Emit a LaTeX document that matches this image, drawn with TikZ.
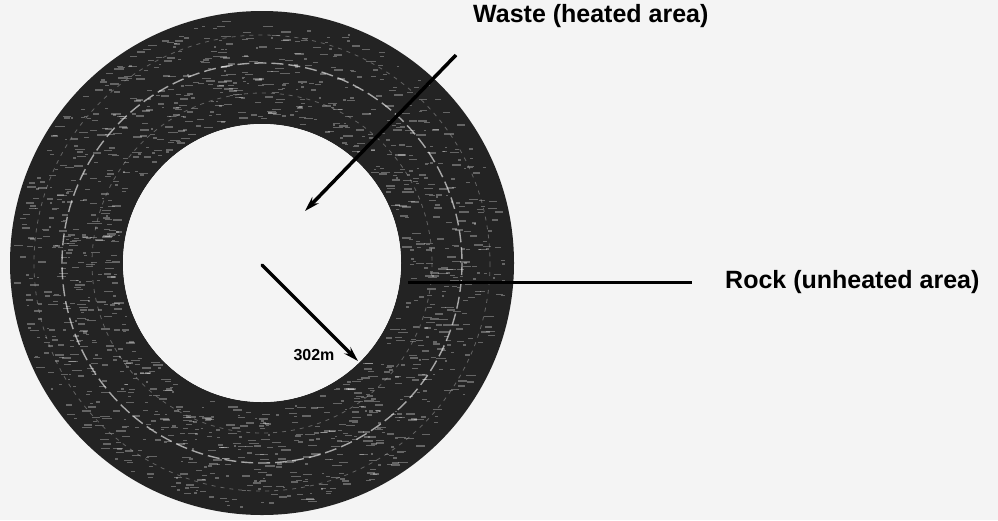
\documentclass[tikz,border=0pt]{standalone}
\usepackage{fontspec}
\setmainfont{Liberation Sans}
\usetikzlibrary{arrows.meta,calc}
\definecolor{bg}{HTML}{F4F4F4}
\definecolor{rock}{HTML}{232323}
\begin{document}
\begin{tikzpicture}[x=1pt,y=-1pt,
  lbl/.style={font=\fontsize{25}{28}\selectfont\bfseries, inner sep=0pt, anchor=west},
  pointer/.style={line width=3.5pt, -{Stealth[length=15pt,width=9pt]}},
  leader/.style={line width=3pt}]
\fill[bg] (0,0) rectangle (998,520);
\useasboundingbox (0,0) rectangle (998,520);
% rock annulus
\coordinate (c) at (262,263);
\fill[rock, even odd rule] (c) circle[radius=252] (c) circle[radius=139];
% texture hints
\begin{scope}[even odd rule]
\clip (c) circle[radius=250] (c) circle[radius=141];
\pgfmathsetseed{7}
\foreach \i in {1,...,1400}{
  \pgfmathsetmacro{\ang}{rnd*360}
  \pgfmathsetmacro{\rad}{145+rnd*100}
  \pgfmathsetmacro{\len}{2+rnd*8}
  \fill[white, opacity=0.3] ($(c)+(\ang:\rad)$) ++(-\len/2,0) rectangle ++(\len,1.4);
}
\draw[white, opacity=0.6, line width=1.4pt, dash pattern=on 12pt off 5pt] (c) circle[radius=200];
\draw[gray!70, opacity=0.5, line width=0.8pt, dash pattern=on 4pt off 5pt] (c) circle[radius=170];
\draw[gray!70, opacity=0.5, line width=0.8pt, dash pattern=on 4pt off 5pt] (c) circle[radius=228];
\end{scope}
% inner waste area
\fill[bg] (c) circle[radius=139];
% labels
\node[lbl] (waste) at (473,16) {Waste (heated area)};
\node[lbl] (rocklbl) at (725,282) {Rock (unheated area)};
\node[font=\fontsize{16}{18}\selectfont\bfseries, inner sep=0pt] (rad) at (314,355) {302m};
% connectors
\coordinate (wstart) at (456,55);
\coordinate (wend) at (305,211);
\draw[pointer] (wstart) -- (wend);
\coordinate (rstart) at (262,265);
\coordinate (rend) at (358,361);
\draw[pointer, line cap=round] (rstart) -- (rend);
\coordinate (rockin) at (408,282);
\coordinate (rockout) at (692,282);
\draw[leader] (rockin) -- (rockout);
\end{tikzpicture}
\end{document}
